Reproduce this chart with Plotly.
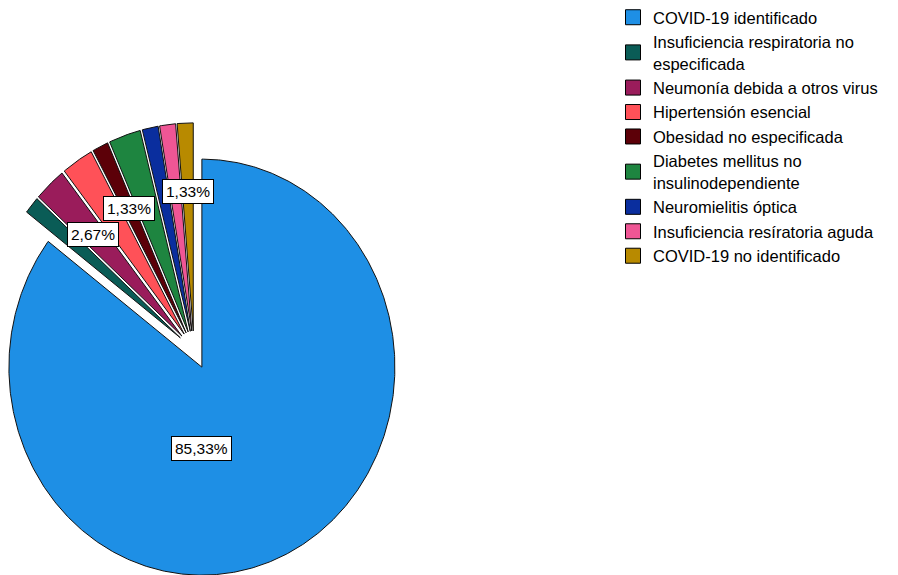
import math
import plotly.graph_objects as go

# Diagnoses and patient counts
categories = [
    "COVID-19 identificado",
    "Insuficiencia respiratoria no<br>especificada",
    "Neumonía debida a otros virus",
    "Hipertensión esencial",
    "Obesidad no especificada",
    "Diabetes mellitus no<br>insulinodependiente",
    "Neuromielitis óptica",
    "Insuficiencia resíratoria aguda",
    "COVID-19 no identificado",
]
counts = [64, 1, 2, 2, 1, 2, 1, 1, 1]
colors = [
    "#1E8FE5", "#0A5C56", "#9A1C5B", "#FF5158", "#5C0008",
    "#1E8540", "#0A2E9E", "#EF5695", "#B88A00",
]
# Which slices carry a percentage label
show_label = [True, False, True, False, True, False, False, False, True]

# Canvas and pie geometry (pixel units)
W, H = 898, 575
CX, CY = 194, 350
RX, RY = 193, 208
PULL = 0.092

total = sum(counts)
fig = go.Figure()
annotations = []

start = 0.0
for name, value, color, lab in zip(categories, counts, colors, show_label):
    sweep = 360.0 * value / total
    a0, a1 = start, start + sweep
    mid = math.radians((a0 + a1) / 2)
    ox = PULL * RX * math.sin(mid)
    oy = -PULL * RY * math.cos(mid)
    ax, ay = CX + ox, CY + oy

    n = max(3, int(sweep * 2) + 1)
    xs, ys = [ax], [ay]
    for k in range(n):
        t = math.radians(a0 + (a1 - a0) * k / (n - 1))
        xs.append(ax + RX * math.sin(t))
        ys.append(ay - RY * math.cos(t))
    xs.append(ax)
    ys.append(ay)

    fig.add_trace(go.Scatter(
        x=xs, y=ys, mode="lines", fill="toself", fillcolor=color,
        line=dict(color="#111111", width=1),
        showlegend=False, hoverinfo="text",
        text=f"{name.replace('<br>', ' ')}: {value}",
    ))

    if lab:
        pct = f"{100.0 * value / total:.2f}".replace(".", ",") + "%"
        if sweep > 180:
            # dominant slice: label sits straight below its apex
            lt, lr = math.pi, 0.39
        else:
            lt, lr = mid, 0.67
        annotations.append(dict(
            x=ax + lr * RX * math.sin(lt), y=ay - lr * RY * math.cos(lt),
            xref="x", yref="y", text=pct, showarrow=False,
            font=dict(family="Liberation Sans, Arial, sans-serif", size=15.5, color="#000000"),
            bgcolor="#FFFFFF", bordercolor="#000000", borderwidth=1, borderpad=3,
        ))
    start = a1

# Legend entries as square swatches
for name, color in zip(categories, colors):
    fig.add_trace(go.Scatter(
        x=[None], y=[None], mode="markers", name=name,
        marker=dict(symbol="square", size=15, color=color,
                    line=dict(color="#000000", width=1)),
        hoverinfo="skip",
    ))

fig.update_layout(
    width=W, height=H,
    margin=dict(l=0, r=0, t=0, b=0),
    paper_bgcolor="#FFFFFF", plot_bgcolor="#FFFFFF",
    xaxis=dict(range=[0, W], visible=False, fixedrange=True),
    yaxis=dict(range=[H, 0], visible=False, fixedrange=True),
    annotations=annotations,
    showlegend=True,
    legend=dict(
        x=613 / W, y=1.0, xanchor="left", yanchor="top",
        font=dict(family="Liberation Sans, Arial, sans-serif", size=16.5, color="#000000"),
        bgcolor="rgba(0,0,0,0)", traceorder="normal", tracegroupgap=0,
    ),
    font=dict(family="Liberation Sans, Arial, sans-serif"),
)

fig.write_html("out.html")
